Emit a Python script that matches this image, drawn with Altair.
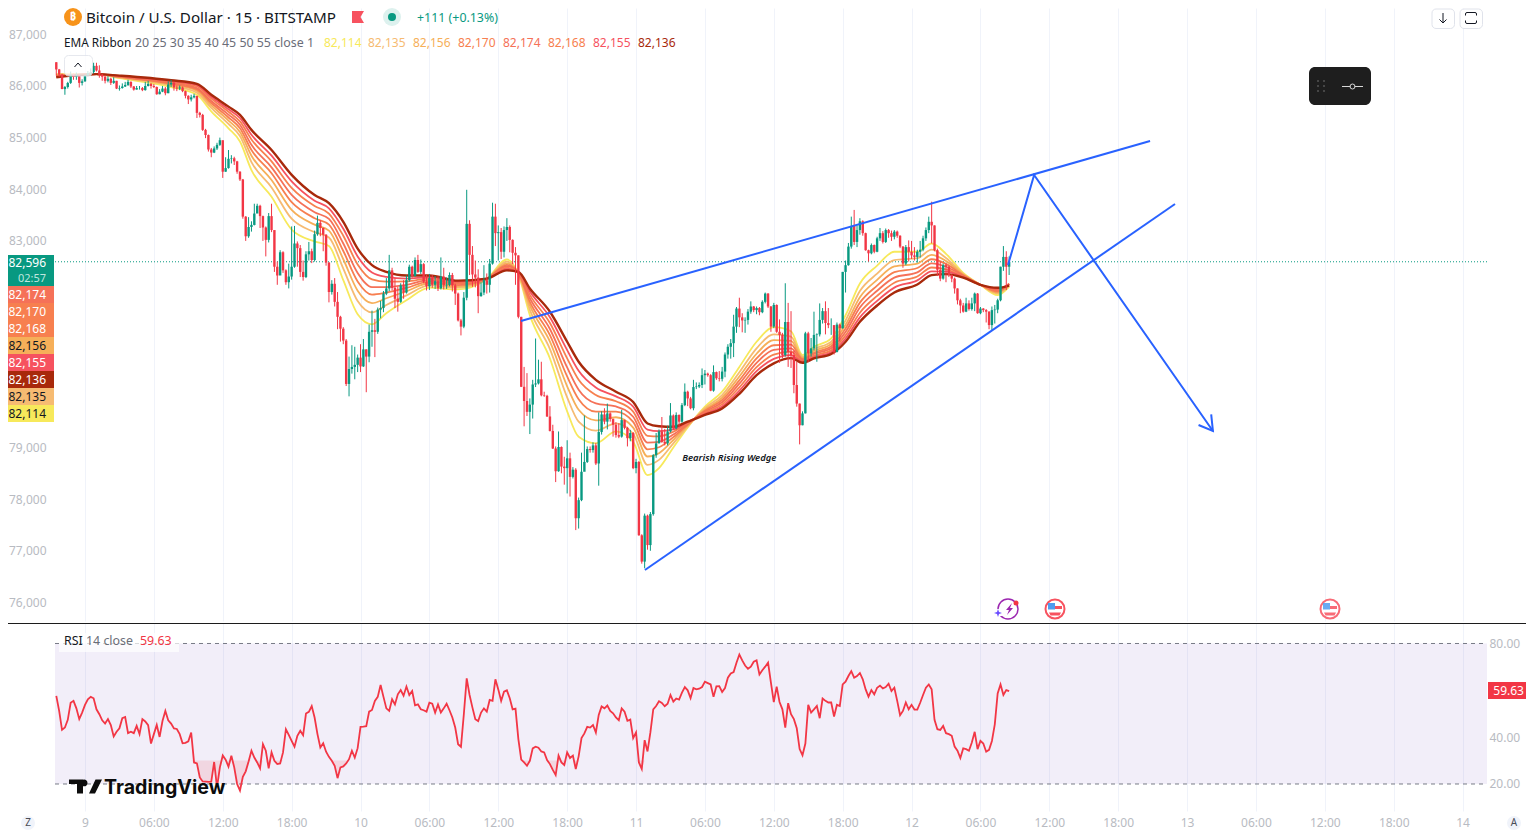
import altair as alt
import pandas as pd

FONT = "Noto Sans"
UP, DOWN = "#089981", "#F23645"
BLUE = "#2962FF"
GRID = "#f0f3fa"
AXIS_TEXT = "#b8bbc2"

# ---------- candles (15 minute bars; bar 0 = the start of the 9th) ----------
first_open = 86460
closes = [
 86320,86220,85940,85980,86060,86220,86180,86200,86060,86090,
 86210,86250,86270,86390,86300,86220,86180,86100,86140,86060,
 86100,85950,85960,85990,86020,86080,85990,85930,85960,85960,
 85920,86000,86040,86000,85980,85840,85890,85950,85860,86030,
 86060,85970,85950,85970,85900,85810,85740,85780,85810,85480,
 85440,85150,85050,84770,84710,84790,84860,84950,84340,84410,
 84590,84600,84540,84340,84190,83470,83090,83270,83310,83530,
 83680,83480,83260,83020,83480,83210,82500,82330,82780,82430,
 82200,82310,82500,82950,82860,82400,82300,82740,82800,82630,
 83130,83350,83250,83120,82580,82010,82170,81820,81530,81300,
 81070,80230,80520,80560,80600,80740,80570,80900,80760,81240,
 81270,81240,81670,81700,81980,82080,82430,82090,81880,81820,
 82140,82000,82240,82500,82320,82630,82400,82550,82210,82120,
 82280,82150,82220,82080,82310,82140,82150,82340,82140,81980,
 81460,81340,81900,83330,82730,82350,82290,81930,82000,82240,
 82150,82560,83470,83150,83170,82790,83210,83270,83020,82770,
 82720,81530,80175,79900,79690,79830,80220,80240,80320,80010,
 80000,79600,79320,78980,78540,79010,78630,78600,78790,78430,
 78570,77630,77980,78530,78720,78970,78950,79040,78690,79300,
 79640,79500,79660,79550,79440,79240,79210,79530,79380,79180,
 79280,78600,78720,77300,76790,77680,77110,77710,78850,79080,
 79310,79110,79080,79310,79620,79370,79630,79500,79820,80080,
 79950,79760,80170,80180,80210,80400,80430,80400,80100,80460,
 80340,80330,80470,80800,80950,81020,81340,81690,81520,81460,
 81470,81630,81730,81660,81700,81620,81820,81980,81730,81340,
 81760,81240,81180,80790,81430,80850,80790,80210,79850,79430,
 79660,81210,80820,80920,81180,81190,81470,81640,81410,81370,
 81370,80850,81380,81310,82400,82530,82890,83290,82980,83210,
 83380,83150,82820,82760,82920,82790,83050,83150,82980,83210,
 83150,83080,83180,83100,82890,82560,82880,82790,82720,82690,
 82790,82830,83050,83210,83370,83300,82820,82440,82270,82530,
 82500,82340,82270,82080,81850,81750,81630,81790,81680,81790,
 81980,81600,81690,81660,81630,81370,81660,81670,81850,82500,
 82690,82500,82596]
highs = [
 86460,86330,86240,86000,86080,86280,86240,86260,86220,86130,
 86220,86290,86340,86450,86450,86400,86230,86200,86190,86160,
 86170,86100,86010,86050,86080,86120,86090,86000,86000,86000,
 85980,86080,86100,86060,86040,85990,85940,86000,85980,86090,
 86120,86080,86010,86010,85990,85910,85820,85830,85850,85790,
 85500,85460,85170,85060,84800,84830,84900,85000,84940,84620,
 84760,84660,84630,84550,84350,84200,83480,83460,83380,83720,
 83720,83700,83490,83280,83540,83720,83200,82600,82820,82800,
 82450,82560,83280,83290,82990,82920,82620,82800,82980,82850,
 83200,83490,83400,83260,83130,82590,82240,82280,82010,81550,
 81330,81100,80760,80980,80950,80800,81000,81100,80900,81380,
 81650,81490,81710,81840,82030,82280,82730,82480,82280,82110,
 82180,82240,82330,82540,82520,82680,82730,82640,82570,82340,
 82360,82340,82320,82310,82680,82480,82290,82390,82380,82170,
 82000,81490,82010,83990,83400,82900,82620,82450,82200,82530,
 82370,82650,83740,83720,83300,83250,83280,83440,83300,83030,
 82880,82720,81530,80560,80440,79950,80310,81110,80700,80660,
 80080,80020,79800,79440,79020,79310,79020,78820,79140,78900,
 78620,78600,78030,78900,79620,79020,79020,79100,79090,79680,
 79700,79760,79850,79680,79560,79490,79470,79730,79540,79400,
 79340,79300,78780,78740,77320,77720,77700,77750,78870,79280,
 79350,79590,79360,79420,79860,79640,79680,79640,79860,80240,
 80100,79980,80310,80260,80260,80530,80500,80450,80420,80590,
 80470,80480,80560,80840,81000,81100,81570,81720,81900,81600,
 81520,81680,81830,81740,81730,81720,81850,82000,81990,81740,
 81800,81770,81480,81220,82180,81800,81640,80870,80660,79850,
 79700,81240,81240,81120,81630,81210,81790,81700,81830,81700,
 81500,81340,81420,81400,82400,82620,82960,83470,83600,83300,
 83440,83400,83160,82830,82950,82930,83080,83250,83190,83240,
 83230,83200,83210,83200,83110,82900,82920,83010,83000,82880,
 82830,83000,83100,83260,83470,83760,83300,82850,82600,82560,
 82560,82520,82350,82290,82080,81880,81800,81900,81850,81900,
 82000,81990,81720,81700,81680,81640,81730,81760,81880,82500,
 82900,82800,82700]
lows = [
 86200,86180,85940,85830,85950,86040,86120,86120,85970,86010,
 86080,86190,86200,86240,86280,86160,86100,86050,86070,86020,
 86040,85940,85910,85950,85980,86000,85960,85910,85930,85930,
 85900,85910,85990,85950,85960,85830,85840,85880,85820,85860,
 85980,85910,85900,85920,85880,85760,85650,85700,85760,85380,
 85390,85130,84990,84730,84620,84700,84760,84840,84220,84340,
 84400,84500,84470,84300,84160,83430,83000,83060,83180,83300,
 83630,83250,83000,82700,82970,83170,82400,82150,82340,82380,
 82150,82080,82250,82480,82500,82300,82230,82280,82620,82570,
 82600,83100,83090,82800,82520,81810,81960,81730,81290,81050,
 81000,80190,79990,80430,80320,80460,80460,80560,80070,80650,
 80950,80750,81200,81500,81620,81950,82030,82040,81700,81630,
 81800,81880,81980,82210,82290,82310,82380,82360,82180,82040,
 82050,82090,82070,82030,82060,82060,82070,82120,82020,81760,
 81440,81170,81310,81850,82340,82110,82100,81600,81920,81950,
 81980,82000,82540,82900,82620,82650,82680,83000,82780,82550,
 82150,81500,80170,79410,79610,79260,79560,80170,80220,79990,
 79980,79590,79310,78970,78330,78530,78500,78280,78110,78050,
 78400,77400,77430,77960,78650,78700,78900,78900,78660,78260,
 79250,79450,79350,79500,79210,79190,79180,79190,79350,79020,
 79120,78580,78500,77290,76750,76660,77020,77000,77680,78800,
 79080,79090,79040,79040,79290,79340,79350,79400,79480,79800,
 79800,79740,79720,80130,80150,80150,80220,80370,80090,80080,
 80310,80280,80280,80360,80720,80720,80750,81220,81330,81230,
 81220,81380,81590,81620,81580,81560,81600,81790,81700,81240,
 81310,81220,80640,80730,80760,80560,80540,80050,79790,79060,
 79430,79660,80650,80760,80880,80660,81150,81400,81190,81310,
 81180,80800,80840,81050,81300,82000,82520,82850,82920,82880,
 83120,83100,82810,82600,82740,82760,82780,83000,82950,82960,
 83060,83000,83030,83060,82860,82480,82530,82600,82650,82620,
 82580,82680,82800,83000,83150,82950,82800,82320,82220,82250,
 82200,82300,82200,81980,81770,81600,81610,81620,81650,81650,
 81640,81590,81580,81620,81420,81290,81270,81400,81600,81830,
 82420,82050,82340]

ribbon_bars = [-10,4,12,30,39,44,50,54,58,65,72,80,85,90,95,100,105,112,120,130,140,147,151,155,162,168,172,178,185,191,196,200,205,210,216,222,228,234,240,246,250,254,260,265,270,276,282,290,295,300,306,312,318,322]
ema20 = [86230,86230,86150,85980,85830,85510,85180,84925,84370,83855,83220,82990,82900,82240,81580,81385,81600,81850,82095,82060,82260,82640,82350,81563,80724,79700,79207,79080,79310,79110,78465,78600,79000,79390,79790,80080,80560,81047,81330,81250,80790,80950,81112,81560,82176,82520,82790,82790,82950,82750,82380,82150,81950,82114]
ema25 = [86220,86230,86160,86010,85870,85575,85265,85030,84525,84035,83430,83170,83065,82465,81835,81615,81760,81945,82140,82095,82260,82600,82360,81665,80905,79970,79500,79325,79465,79265,78665,78760,79080,79410,79760,80015,80455,80920,81190,81145,80760,80905,81050,81460,82030,82365,82630,82665,82830,82670,82360,82150,81980,82135]
ema30 = [86210,86230,86170,86030,85905,85625,85330,85110,84650,84180,83600,83315,83200,82645,82035,81795,81890,82025,82180,82120,82262,82565,82370,81750,81050,80185,79730,79525,79585,79385,78825,78890,79145,79430,79730,79965,80375,80815,81080,81065,80735,80870,81005,81375,81910,82245,82505,82560,82730,82610,82350,82150,82000,82156]
ema35 = [86200,86230,86175,86045,85935,85670,85390,85180,84760,84310,83750,83440,83315,82805,82215,81960,82000,82090,82210,82145,82265,82535,82375,81820,81175,80375,79935,79695,79695,79495,78965,79005,79200,79445,79710,79920,80300,80725,80980,80990,80715,80835,80960,81305,81805,82135,82395,82475,82645,82555,82335,82150,82020,82170]
ema40 = [86190,86230,86180,86060,85960,85710,85445,85250,84860,84425,83890,83555,83425,82950,82380,82105,82105,82150,82245,82170,82266,82510,82380,81890,81295,80550,80120,79855,79795,79595,79095,79110,79250,79460,79690,79875,80235,80640,80890,80920,80695,80810,80920,81235,81710,82035,82290,82390,82565,82500,82325,82150,82040,82174]
ema45 = [86185,86230,86190,86080,85990,85755,85500,85315,84965,84540,84025,83675,83530,83100,82545,82255,82210,82215,82275,82190,82268,82480,82390,81955,81410,80725,80310,80015,79895,79695,79225,79215,79305,79475,79670,79835,80165,80555,80800,80855,80675,80780,80880,81170,81610,81935,82190,82310,82485,82450,82310,82150,82060,82168]
ema50 = [86175,86230,86195,86095,86015,85790,85550,85380,85055,84650,84155,83780,83630,83235,82700,82390,82305,82270,82300,82210,82269,82455,82395,82020,81520,80885,80485,80160,79990,79790,79345,79315,79350,79490,79650,79795,80100,80480,80715,80790,80660,80750,80845,81110,81520,81840,82095,82235,82410,82405,82300,82150,82075,82155]
ema55 = [86170,86230,86200,86110,86040,85830,85600,85440,85150,84760,84280,83890,83730,83370,82850,82530,82400,82330,82330,82230,82270,82430,82400,82080,81628,81047,80660,80310,80080,79880,79465,79410,79400,79500,79630,79756,80040,80400,80630,80730,80640,80724,80810,81047,81434,81750,82000,82157,82338,82357,82290,82150,82092,82136]
ribbon_series = [ema20,ema25,ema30,ema35,ema40,ema45,ema50,ema55]
ribbon_colors = ["#F7E95B","#F6BB72","#F6AF59","#F77F50","#F57158","#F7804F","#F6525F","#A8290B"]
ribbon_last = ["82,114","82,135","82,156","82,170","82,174","82,168","82,155","82,136"]

# ---------- RSI ----------
rsi = [
 57.6,51.2,43.1,44.1,47.4,54.7,55.5,52.3,47.7,50.5,
 53.8,56.2,57.2,56.6,51.9,49.8,47.2,45.8,47.7,45.2,
 40.3,42.3,43.8,48.1,48.6,41.7,42.3,41.7,44.8,41.3,
 47.7,46.7,45.1,37.3,41.3,45.2,40.1,46.9,51.2,47.2,
 45.8,43.7,43.5,41.3,37.4,37.6,38.2,42,29.2,28.8,
 22.8,21.1,21,20.9,21,29.4,18.6,27.1,32.2,30.4,
 27.4,32.1,27.1,20,17.2,23.1,25.4,29.6,34.2,31.3,
 29.2,26.7,37,34.2,26.7,33.5,29.9,28.5,28.8,33.5,
 43.4,41,38.4,35.9,40.6,42.7,40.8,50.1,50.8,53.3,
 48.4,41.3,35.6,37.4,33.8,31.6,29.9,27.8,22.5,27.1,
 27.5,28.8,30.6,34.2,31.3,35.3,44.4,44.5,44.7,50.9,
 51.6,55.5,57.2,62.3,57.2,52.3,51.2,56.2,54,58.3,
 60.1,57.7,61.6,58,59.7,53.6,54,51.9,51.5,50.9,
 54.7,54.3,50.5,54,50.5,52.3,54.3,51.5,48.4,44.1,
 37,35.9,49.8,65.1,58,52.6,47.7,46.9,50.5,52.3,
 50.9,55.9,55.5,64.7,60.4,55.5,59.4,60,56.6,51.9,
 52.2,39.2,30.4,29.2,27.8,29.9,35.2,35.9,35.5,33.9,
 33.5,30.2,28.5,26,23.8,32.1,29.2,28.1,33.5,31.1,
 32.1,26.4,31.8,39.6,41.6,44.4,44.1,45.2,42,49.5,
 53.1,52.3,53.5,51.2,50.2,48.4,47.2,52.3,50.9,47,
 47.5,39.6,42,29.2,26.4,38.7,33.9,42,51.9,53.3,
 55.3,54.6,53.2,54.3,58,55.2,56.5,56,59,61.4,
 60,56.7,61,60.4,60.7,61.4,63.7,63.1,62.5,57.2,
 61.7,61.8,59.3,61,65.4,67.2,67.8,71.8,75.3,72.8,
 70.6,69.2,70.1,72.2,72.8,66.8,68.6,70.1,71.8,63.3,
 55,61.6,55,51.9,44.1,54.5,49.8,47.7,43.8,34.9,
 32.3,37.3,53.8,50.5,51.9,53.3,48.1,56.5,55.5,54.8,
 54.8,48.8,53.8,53.3,62.5,63.7,66.1,68.2,65.4,66.1,
 67.4,64.7,60.4,57.3,60.1,58.3,61.1,62,60.8,61.4,
 62.8,59.7,61.1,55.5,49.4,51.2,54.8,51.9,53.8,51.8,
 51.8,54.7,58,61.1,62.5,60.4,47.4,43.4,43.1,44.8,
 41.7,41.3,40.6,36,34.2,31.1,35.2,34.9,34.2,37.7,
 42.3,34.9,38.4,37.3,33.8,34.6,38.4,45.5,58.7,62.5,
 58,60.1,59.63]

# ---------- drawings ----------
wedge_upper_bar, wedge_upper_price = [151.9, 371.1], [81449, 84935]
wedge_lower_bar, wedge_lower_price = [195.1, 379.8], [76627, 83715]
path_bar, path_price = [321.6, 330.7, 393.0], [82533, 84276, 79319]
arrow_bar, arrow_price = [388.0, 393.0, 392.4], [79435, 79319, 79640]
last_price = 82596

# ---------- axes ----------
tick_bars = [24 * k for k in range(21)]
tick_labels = ["9","06:00","12:00","18:00","10","06:00","12:00","18:00","11","06:00","12:00","18:00",
               "12","06:00","12:00","18:00","13","06:00","12:00","18:00","14"]
# 80,000 to 82,000 are covered by the price tags in the reference
price_ticks = [76000,77000,78000,79000,83000,84000,85000,86000,87000]
rsi_ticks = [20, 40, 80]

W, H1, H2 = 1432, 613, 188
X0, Y1, Y2 = 55, 8, 622
RIGHT = 1526
xs = alt.Scale(domain=[-10.45, 488.5], nice=False, zero=False, padding=0)
ys = alt.Scale(domain=[75640, 87510], nice=False, zero=False)
rs = alt.Scale(domain=[8.47, 88.75], nice=False, zero=False)

price_x_axis = alt.Axis(values=tick_bars, grid=True, gridColor=GRID, gridWidth=1, labels=False, ticks=False,
                        domain=False, title=None)
price_y_axis = alt.Axis(values=price_ticks, labelExpr="format(datum.value, ',')", grid=False, ticks=False, domain=False, title=None,
                        labelColor=AXIS_TEXT, labelFont=FONT, labelFontSize=12, labelPadding=9)
label_expr = "[" + ",".join(f"'{t}'" for t in tick_labels) + "][datum.value / 24]"
rsi_x_axis = alt.Axis(values=tick_bars, grid=True, gridColor=GRID, gridWidth=1, ticks=False, domain=False, title=None,
                      labelExpr=label_expr, labelColor=AXIS_TEXT, labelFont=FONT, labelFontSize=12, labelPadding=6,
                      labelOverlap=False, labelFlush=False)
rsi_y_axis = alt.Axis(values=rsi_ticks, format=".2f", orient="right", grid=False, ticks=False, domain=False, title=None,
                      labelColor=AXIS_TEXT, labelFont=FONT, labelFontSize=12, labelPadding=2)

ONE = alt.Data(values=[{"a": 0}])

def bx(field="bar"):
    return alt.X(f"{field}:Q", scale=xs, axis=price_x_axis, title=None)
def rx(field="bar"):
    return alt.X(f"{field}:Q", scale=xs, axis=rsi_x_axis, title=None)
def py(field="price"):
    return alt.Y(f"{field}:Q", scale=ys, axis=price_y_axis, title=None)
def ry(field="rsi"):
    return alt.Y(f"{field}:Q", scale=rs, axis=rsi_y_axis, title=None)

def label(px, pyy, y0, txt, color="#131722", size=12, align="left", weight="normal", font=FONT, opacity=1):
    nudge = 1 if y0 == Y1 else 0  # text in the price panel sits a pixel lower
    return alt.Chart(ONE).mark_text(color=color, fontSize=size, align=align, baseline="middle",
                                    fontWeight=weight, font=font, opacity=opacity).encode(
        x=alt.value(px - X0), y=alt.value(pyy - y0 + nudge), text=alt.value(txt))

def box(x1, y1, x2, y2, y0, fill, stroke=None, radius=0, opacity=1):
    kw = {"stroke": stroke, "strokeWidth": 1} if stroke else {}
    return alt.Chart(ONE).mark_rect(color=fill, cornerRadius=radius, opacity=opacity, **kw).encode(
        x=alt.value(x1 - X0), x2=alt.value(x2 - X0), y=alt.value(y1 - y0), y2=alt.value(y2 - y0))

def glyph(px, pyy, y0, path, fill=None, stroke=None, sw=1, opacity=1):
    # a custom symbol path of size 4 is drawn in pixel units around its centre
    kw = {}
    if fill:
        kw["fill"] = fill
        kw["filled"] = True
    else:
        kw["filled"] = False
    kw["stroke"] = stroke if stroke else "transparent"
    return alt.Chart(ONE).mark_point(shape=path, size=4, strokeWidth=sw if stroke else 0, opacity=opacity, **kw).encode(
        x=alt.value(px - X0), y=alt.value(pyy - y0))

def dot(px, pyy, y0, d, fill=None, stroke=None, sw=1, opacity=1):
    kw = {"fill": fill, "filled": True} if fill else {"filled": False}
    kw["stroke"] = stroke if stroke else "transparent"
    return alt.Chart(ONE).mark_point(shape="circle", size=d * d, strokeWidth=sw if stroke else 0, opacity=opacity, **kw).encode(
        x=alt.value(px - X0), y=alt.value(pyy - y0))

# ---------- data frames ----------
bars = list(range(-10, -10 + len(closes)))
assert len(closes) == len(highs) == len(lows) == len(rsi) == 333
opens = [first_open] + closes[:-1]
candles = pd.DataFrame({"bar": bars, "open": opens, "close": closes, "high": highs, "low": lows})
candles["dir"] = ["up" if c >= o else "down" for o, c in zip(opens, closes)]
candle_color = alt.Color("dir:N", scale=alt.Scale(domain=["up", "down"], range=[UP, DOWN]), legend=None)

# ---------- price panel ----------
price_line = alt.Chart(pd.DataFrame({"bar": [0], "price": [last_price]})).mark_rule(color=UP, strokeDash=[1, 2], strokeWidth=1).encode(
    x=alt.value(0), x2=alt.value(W), y=py())

ribbon_layers = []
for series, col, name in zip(ribbon_series, ribbon_colors, ["20","25","30","35","40","45","50","55"]):
    d = pd.DataFrame({"bar": ribbon_bars, "price": series})
    ribbon_layers.append(alt.Chart(d).mark_line(color=col, interpolate="monotone",
                                                strokeWidth=2.4 if name == "55" else 1.8).encode(x=bx(), y=py()))

wicks = alt.Chart(candles).mark_rule(strokeWidth=1).encode(x=bx(), y=py("low"), y2="high:Q", color=candle_color)
bodies = alt.Chart(candles).mark_bar(size=2.4).encode(x=bx(), y=py("open"), y2="close:Q", color=candle_color)

def drawn(xv, yv, w=2):
    d = pd.DataFrame({"bar": xv, "price": yv, "o": range(len(xv))})
    return alt.Chart(d).mark_line(color=BLUE, strokeWidth=w).encode(x=bx(), y=py(), order="o:Q")

wedge_note = alt.Chart(pd.DataFrame({"bar": [224.5], "price": [78796], "t": ["Bearish Rising Wedge"]})).mark_text(
    fontSize=9.5, fontStyle="italic", fontWeight=600, font=FONT, color="#131722").encode(x=bx(), y=py(), text="t:N")

header = [
    dot(73, 17, Y1, 18, fill="#F7931A"),
    label(73, 16, Y1, "₿", color="#ffffff", size=11, align="center", weight="bold"),
    label(86, 17, Y1, "Bitcoin / U.S. Dollar · 15 · BITSTAMP", size=15.2),
    glyph(358, 17, Y1, "M-6,-6H6L2.5,0L6,6H-6Z", fill="#F7525F"),
    dot(392, 17, Y1, 18, fill="#DDF1EE"),
    dot(392, 17, Y1, 8, fill=UP),
    label(417, 17, Y1, "+111 (+0.13%)", color=UP, size=12.4),
    label(64, 42, Y1, "EMA Ribbon", size=11.8),
    label(135, 42, Y1, "20 25 30 35 40 45 50 55 close 1", color="#6a6d78", size=12.4),
]
for xp, txt, col in zip([324,368,413,458,503,548,593,638], ribbon_last, ribbon_colors):
    header.append(label(xp, 42, Y1, txt, color=col, size=12))

# collapse button, over the first candles
header += [
    box(64.5, 55.5, 92.5, 76, Y1, "#ffffff", stroke="#e0e3eb", radius=4, opacity=0.8),
    glyph(78, 65, Y1, "M-3.5,2L0,-2L3.5,2", stroke="#131722", sw=1),
    # buttons at the top right
    box(1432, 9, 1454.5, 28.5, Y1, "#ffffff", stroke="#e0e3eb", radius=4),
    box(1460, 9, 1482.5, 28.5, Y1, "#ffffff", stroke="#e0e3eb", radius=4),
    glyph(1443, 18, Y1, "M0,-5V5M-3.5,1.5L0,5L3.5,1.5", stroke="#131722", sw=1),
    glyph(1471, 18, Y1, "M-5.5,-2.5V-4Q-5.5,-5.5 -4,-5.5H4Q5.5,-5.5 5.5,-4V-2.5M-5.5,2.5V4Q-5.5,5.5 -4,5.5H4Q5.5,5.5 5.5,4V2.5",
          stroke="#131722", sw=1),
    # floating toolbar
    box(1309, 67, 1371, 105, Y1, "#1e1e1e", radius=6),
    glyph(1352.5, 86.5, Y1, "M-10.5,0H-2M2,0H10.5", stroke="#d8d8d8", sw=1),
    dot(1352.5, 86.5, Y1, 5, stroke="#d8d8d8", sw=1),
]
for dy in (81, 86, 91):
    for dx in (1318, 1324):
        header.append(dot(dx, dy, Y1, 2, fill="#555555"))

# price tags on the left
tag_rows = [
    ("82,174", "#F57158", "#ffffff"), ("82,170", "#F77F50", "#ffffff"), ("82,168", "#F7804F", "#ffffff"),
    ("82,156", "#F6AF59", "#131722"), ("82,155", "#F6525F", "#ffffff"), ("82,136", "#A8290B", "#ffffff"),
    ("82,135", "#F6BB72", "#131722"), ("82,114", "#F7E95B", "#131722"),
]
tags = [box(8, 255, 54, 286, Y1, UP),
        label(46, 262, Y1, "82,596", color="#ffffff", align="right"),
        label(46, 277.5, Y1, "02:57", color="#bfe6df", align="right", size=11)]
for k, (txt, fill, ink) in enumerate(tag_rows):
    tags.append(box(8, 286 + 17 * k, 54, 303 + 17 * k, Y1, fill))
    tags.append(label(46, 294 + 17 * k, Y1, txt, color=ink, align="right"))

# event icons
def us_flag(px, opacity=1):
    return [
        dot(px, 609, Y1, 19, fill="#ffffff", stroke="#F7525F", sw=2, opacity=opacity),
        glyph(px, 609, Y1, "M-7,-6H0V0.5H-7Z", fill="#4f9cf0", opacity=opacity),
        glyph(px, 609, Y1, "M0,-3H7V0H0Z", fill="#F7525F", opacity=opacity),
        glyph(px, 609, Y1, "M-6,3.5H6L4.5,6.5H-4.5Z", fill="#F7525F", opacity=opacity),
    ]
events = [
    dot(1008, 609, Y1, 20, stroke="#9C27B0", sw=1.5),
    box(997, 609, 1003, 616, Y1, "#ffffff"),
    glyph(1009, 609, Y1, "M3,-6L-3,1H0L-2,6L4,-1H1Z", fill="#9C27B0"),
    glyph(998, 613, Y1, "M-4,0L-1,-1L0,-4L1,-1L4,0L1,1L0,4L-1,1Z", fill="#6A4CFF"),
    dot(1016, 603, Y1, 5, fill=DOWN),
] + us_flag(1055) + us_flag(1330, 0.85)

price_panel = alt.layer(
    price_line, *ribbon_layers, wicks, bodies,
    drawn(wedge_upper_bar, wedge_upper_price), drawn(wedge_lower_bar, wedge_lower_price),
    drawn(path_bar, path_price), drawn(arrow_bar, arrow_price), wedge_note,
    *header, *tags, *events
).properties(width=W, height=H1)

# ---------- RSI panel ----------
rsi_df = pd.DataFrame({"bar": bars, "rsi": rsi})
rsi_df["under"] = rsi_df["rsi"].clip(upper=30)
rsi_df["limit"] = 30

band = alt.Chart(pd.DataFrame({"a": [20], "b": [80]})).mark_rect(color="#7E57C2", opacity=0.1).encode(
    x=alt.value(0), x2=alt.value(W), y=ry("a"), y2="b:Q")
limits = alt.Chart(pd.DataFrame({"rsi": [80, 20]})).mark_rule(color="#787B86", strokeDash=[4, 4], strokeWidth=1).encode(
    x=alt.value(0), x2=alt.value(W), y=ry())
under_area = alt.Chart(rsi_df).mark_area(color=DOWN, opacity=0.13).encode(x=rx(), y=ry("under"), y2="limit:Q")
rsi_line = alt.Chart(rsi_df).mark_line(color=DOWN, strokeWidth=1.8).encode(x=rx(), y=ry())

LOGO = "M-1,7H-7V-2.5H-15V-7H-1ZM11,7H5L11.5,-7H18L11,7ZM3.5,-3.6A3.4,3.4 0 1 1 3.5,-3.61Z"
rsi_extra = [
    box(8, 622, RIGHT, 623, Y2, "#1c1c1c"),
    box(59, 632, 179, 651, Y2, "#ffffff", opacity=0.7),
    label(64, 640, Y2, "RSI", size=12.4),
    label(86, 640, Y2, "14 close", color="#6a6d78", size=12.4),
    label(140, 640, Y2, "59.63", color=DOWN, size=12.4),
    box(1488, 681, RIGHT, 698, Y2, DOWN),
    label(1524, 689.5, Y2, "59.63", color="#ffffff", align="right"),
    label(104, 787, Y2, "TradingView", color="#ffffff", size=19.6, weight="bold", font="Inter", opacity=0.9),
    glyph(84, 785.5, Y2, LOGO, fill="#0c0c0c"),
    label(104, 787, Y2, "TradingView", color="#0c0c0c", size=19.6, weight="bold", font="Inter"),
    dot(28, 822, Y2, 14, fill=GRID),
    label(28, 822, Y2, "Z", color="#4a4d57", size=10, align="center"),
    dot(1514, 822, Y2, 14, fill=GRID),
    label(1514, 822, Y2, "A", color="#4a4d57", size=10, align="center"),
]

rsi_panel = alt.layer(
    band, limits, under_area, rsi_line, *rsi_extra
).properties(width=W, height=H2)

chart = alt.vconcat(price_panel, rsi_panel, spacing=0).properties(padding=0, background="#ffffff").configure_view(stroke=None)
chart.save("out.html", embed_options={"renderer": "svg", "actions": False})
